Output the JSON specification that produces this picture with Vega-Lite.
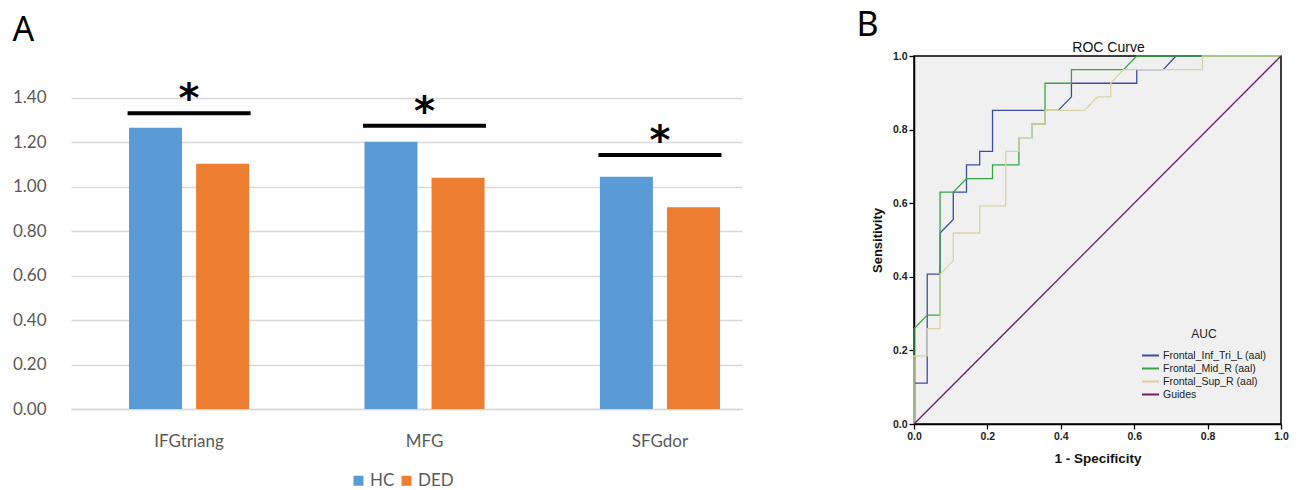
{
  "$schema": "https://vega.github.io/schema/vega-lite/v6.json",
  "padding": {"left": 12, "top": 8, "right": 5, "bottom": 2},
  "background": "white",
  "spacing": 113,
  "resolve": {"scale": {"color": "independent"}, "legend": {"color": "independent"}},
  "config": {"view": {"stroke": null}},
  "datasets": {
    "bars": [
      {"region": "IFGtriang", "group": "HC", "value": 1.266},
      {"region": "IFGtriang", "group": "DED", "value": 1.104},
      {"region": "MFG", "group": "HC", "value": 1.203},
      {"region": "MFG", "group": "DED", "value": 1.041},
      {"region": "SFGdor", "group": "HC", "value": 1.045},
      {"region": "SFGdor", "group": "DED", "value": 0.908}
    ],
    "sig": [
      {"region": "IFGtriang", "level": 1.331, "mark": "*"},
      {"region": "MFG", "level": 1.275, "mark": "*"},
      {"region": "SFGdor", "level": 1.143, "mark": "*"}
    ],
    "roc": [
      {"series": "Frontal_Inf_Tri_L (aal)", "i": 0, "fpr": 0, "tpr": 0},
      {"series": "Frontal_Inf_Tri_L (aal)", "i": 1, "fpr": 0, "tpr": 0.111},
      {"series": "Frontal_Inf_Tri_L (aal)", "i": 2, "fpr": 0.036, "tpr": 0.111},
      {"series": "Frontal_Inf_Tri_L (aal)", "i": 3, "fpr": 0.036, "tpr": 0.407},
      {"series": "Frontal_Inf_Tri_L (aal)", "i": 4, "fpr": 0.071, "tpr": 0.407},
      {"series": "Frontal_Inf_Tri_L (aal)", "i": 5, "fpr": 0.071, "tpr": 0.519},
      {"series": "Frontal_Inf_Tri_L (aal)", "i": 6, "fpr": 0.107, "tpr": 0.556},
      {"series": "Frontal_Inf_Tri_L (aal)", "i": 7, "fpr": 0.107, "tpr": 0.630},
      {"series": "Frontal_Inf_Tri_L (aal)", "i": 8, "fpr": 0.143, "tpr": 0.630},
      {"series": "Frontal_Inf_Tri_L (aal)", "i": 9, "fpr": 0.143, "tpr": 0.704},
      {"series": "Frontal_Inf_Tri_L (aal)", "i": 10, "fpr": 0.179, "tpr": 0.704},
      {"series": "Frontal_Inf_Tri_L (aal)", "i": 11, "fpr": 0.179, "tpr": 0.741},
      {"series": "Frontal_Inf_Tri_L (aal)", "i": 12, "fpr": 0.214, "tpr": 0.741},
      {"series": "Frontal_Inf_Tri_L (aal)", "i": 13, "fpr": 0.214, "tpr": 0.852},
      {"series": "Frontal_Inf_Tri_L (aal)", "i": 14, "fpr": 0.393, "tpr": 0.852},
      {"series": "Frontal_Inf_Tri_L (aal)", "i": 15, "fpr": 0.429, "tpr": 0.889},
      {"series": "Frontal_Inf_Tri_L (aal)", "i": 16, "fpr": 0.429, "tpr": 0.926},
      {"series": "Frontal_Inf_Tri_L (aal)", "i": 17, "fpr": 0.607, "tpr": 0.926},
      {"series": "Frontal_Inf_Tri_L (aal)", "i": 18, "fpr": 0.607, "tpr": 0.963},
      {"series": "Frontal_Inf_Tri_L (aal)", "i": 19, "fpr": 0.679, "tpr": 0.963},
      {"series": "Frontal_Inf_Tri_L (aal)", "i": 20, "fpr": 0.714, "tpr": 1},
      {"series": "Frontal_Inf_Tri_L (aal)", "i": 21, "fpr": 1, "tpr": 1},
      {"series": "Frontal_Mid_R (aal)", "i": 0, "fpr": 0, "tpr": 0},
      {"series": "Frontal_Mid_R (aal)", "i": 1, "fpr": 0, "tpr": 0.259},
      {"series": "Frontal_Mid_R (aal)", "i": 2, "fpr": 0.036, "tpr": 0.296},
      {"series": "Frontal_Mid_R (aal)", "i": 3, "fpr": 0.071, "tpr": 0.296},
      {"series": "Frontal_Mid_R (aal)", "i": 4, "fpr": 0.071, "tpr": 0.630},
      {"series": "Frontal_Mid_R (aal)", "i": 5, "fpr": 0.107, "tpr": 0.630},
      {"series": "Frontal_Mid_R (aal)", "i": 6, "fpr": 0.143, "tpr": 0.667},
      {"series": "Frontal_Mid_R (aal)", "i": 7, "fpr": 0.214, "tpr": 0.667},
      {"series": "Frontal_Mid_R (aal)", "i": 8, "fpr": 0.214, "tpr": 0.704},
      {"series": "Frontal_Mid_R (aal)", "i": 9, "fpr": 0.286, "tpr": 0.704},
      {"series": "Frontal_Mid_R (aal)", "i": 10, "fpr": 0.286, "tpr": 0.778},
      {"series": "Frontal_Mid_R (aal)", "i": 11, "fpr": 0.321, "tpr": 0.778},
      {"series": "Frontal_Mid_R (aal)", "i": 12, "fpr": 0.321, "tpr": 0.815},
      {"series": "Frontal_Mid_R (aal)", "i": 13, "fpr": 0.357, "tpr": 0.815},
      {"series": "Frontal_Mid_R (aal)", "i": 14, "fpr": 0.357, "tpr": 0.926},
      {"series": "Frontal_Mid_R (aal)", "i": 15, "fpr": 0.429, "tpr": 0.926},
      {"series": "Frontal_Mid_R (aal)", "i": 16, "fpr": 0.429, "tpr": 0.963},
      {"series": "Frontal_Mid_R (aal)", "i": 17, "fpr": 0.571, "tpr": 0.963},
      {"series": "Frontal_Mid_R (aal)", "i": 18, "fpr": 0.607, "tpr": 1},
      {"series": "Frontal_Mid_R (aal)", "i": 19, "fpr": 1, "tpr": 1},
      {"series": "Frontal_Sup_R (aal)", "i": 0, "fpr": 0, "tpr": 0},
      {"series": "Frontal_Sup_R (aal)", "i": 1, "fpr": 0, "tpr": 0.185},
      {"series": "Frontal_Sup_R (aal)", "i": 2, "fpr": 0.036, "tpr": 0.185},
      {"series": "Frontal_Sup_R (aal)", "i": 3, "fpr": 0.036, "tpr": 0.259},
      {"series": "Frontal_Sup_R (aal)", "i": 4, "fpr": 0.071, "tpr": 0.259},
      {"series": "Frontal_Sup_R (aal)", "i": 5, "fpr": 0.071, "tpr": 0.407},
      {"series": "Frontal_Sup_R (aal)", "i": 6, "fpr": 0.107, "tpr": 0.444},
      {"series": "Frontal_Sup_R (aal)", "i": 7, "fpr": 0.107, "tpr": 0.519},
      {"series": "Frontal_Sup_R (aal)", "i": 8, "fpr": 0.179, "tpr": 0.519},
      {"series": "Frontal_Sup_R (aal)", "i": 9, "fpr": 0.179, "tpr": 0.593},
      {"series": "Frontal_Sup_R (aal)", "i": 10, "fpr": 0.25, "tpr": 0.593},
      {"series": "Frontal_Sup_R (aal)", "i": 11, "fpr": 0.25, "tpr": 0.741},
      {"series": "Frontal_Sup_R (aal)", "i": 12, "fpr": 0.286, "tpr": 0.741},
      {"series": "Frontal_Sup_R (aal)", "i": 13, "fpr": 0.286, "tpr": 0.778},
      {"series": "Frontal_Sup_R (aal)", "i": 14, "fpr": 0.321, "tpr": 0.778},
      {"series": "Frontal_Sup_R (aal)", "i": 15, "fpr": 0.321, "tpr": 0.815},
      {"series": "Frontal_Sup_R (aal)", "i": 16, "fpr": 0.357, "tpr": 0.815},
      {"series": "Frontal_Sup_R (aal)", "i": 17, "fpr": 0.357, "tpr": 0.852},
      {"series": "Frontal_Sup_R (aal)", "i": 18, "fpr": 0.464, "tpr": 0.852},
      {"series": "Frontal_Sup_R (aal)", "i": 19, "fpr": 0.5, "tpr": 0.889},
      {"series": "Frontal_Sup_R (aal)", "i": 20, "fpr": 0.536, "tpr": 0.889},
      {"series": "Frontal_Sup_R (aal)", "i": 21, "fpr": 0.536, "tpr": 0.926},
      {"series": "Frontal_Sup_R (aal)", "i": 22, "fpr": 0.571, "tpr": 0.963},
      {"series": "Frontal_Sup_R (aal)", "i": 23, "fpr": 0.786, "tpr": 0.963},
      {"series": "Frontal_Sup_R (aal)", "i": 24, "fpr": 0.786, "tpr": 1},
      {"series": "Frontal_Sup_R (aal)", "i": 25, "fpr": 1, "tpr": 1},
      {"series": "Guides", "i": 0, "fpr": 0, "tpr": 0},
      {"series": "Guides", "i": 1, "fpr": 1, "tpr": 1}
    ]
  },
  "hconcat": [
    {
      "title": {"text": "A", "anchor": "start", "frame": "bounds", "fontSize": 34, "font": "Noto Sans", "fontWeight": "normal", "color": "black", "offset": 8},
      "width": 671,
      "height": 353,
      "view": {"stroke": null},
      "layer": [
        {
          "data": {"name": "bars"},
          "mark": {"type": "bar"},
          "encoding": {
            "x": {
              "field": "region", "type": "nominal", "sort": ["IFGtriang", "MFG", "SFGdor"],
              "scale": {"paddingInner": 0.49, "paddingOuter": 0.17, "align": 0.725},
              "axis": {"title": null, "labelAngle": 0, "ticks": false, "domainColor": "#d9d9d9", "domainWidth": 1.5, "labelFont": "Lato", "labelFontSize": 17, "labelColor": "#595959", "labelPadding": 24}
            },
            "xOffset": {"field": "group", "type": "nominal", "sort": ["HC", "DED"], "scale": {"paddingInner": 0.21, "paddingOuter": 0}},
            "y": {
              "field": "value", "type": "quantitative",
              "scale": {"domain": [0, 1.589], "nice": false},
              "axis": {"title": null, "values": [0, 0.2, 0.4, 0.6, 0.8, 1.0, 1.2, 1.4], "format": ".2f", "domain": false, "ticks": false, "gridColor": "#d9d9d9", "gridWidth": 1.5, "labelFont": "Lato", "labelFontSize": 17, "labelColor": "#595959", "labelPadding": 25}
            },
            "color": {
              "field": "group", "type": "nominal", "sort": ["HC", "DED"],
              "scale": {"domain": ["HC", "DED"], "range": ["#5b9bd5", "#ed7d31"]},
              "legend": {"orient": "none", "legendX": 279, "legendY": 416, "direction": "horizontal", "title": null, "symbolType": "square", "symbolSize": 100, "symbolStrokeWidth": 0, "labelFont": "Lato", "labelFontSize": 17, "labelColor": "#595959", "columnPadding": 3, "labelOffset": 3}
            }
          }
        },
        {
          "data": {"name": "sig"},
          "mark": {"type": "tick", "size": 123, "thickness": 4, "color": "black", "opacity": 1},
          "encoding": {
            "x": {"field": "region", "type": "nominal", "sort": ["IFGtriang", "MFG", "SFGdor"]},
            "y": {"field": "level", "type": "quantitative"}
          }
        },
        {
          "data": {"name": "sig"},
          "mark": {"type": "text", "font": "DejaVu Sans", "fontWeight": "bold", "fontSize": 40, "baseline": "alphabetic", "align": "center", "color": "black", "dy": -1},
          "encoding": {
            "x": {"field": "region", "type": "nominal", "sort": ["IFGtriang", "MFG", "SFGdor"]},
            "y": {"field": "level", "type": "quantitative"},
            "text": {"field": "mark"}
          }
        }
      ]
    },
    {
      "title": {"text": "B", "anchor": "start", "frame": "bounds", "fontSize": 34, "font": "Noto Sans", "fontWeight": "normal", "color": "black", "offset": -2, "dx": -15},
      "width": 367,
      "height": 368,
      "view": {"fill": "#f0f0f0", "stroke": "black", "strokeWidth": 1.5},
      "layer": [
        {
          "data": {"name": "roc"},
          "mark": {"type": "line", "strokeWidth": 1.3},
          "encoding": {
            "x": {
              "field": "fpr", "type": "quantitative", "scale": {"domain": [0, 1], "nice": false},
              "axis": {"title": "1 - Specificity", "values": [0, 0.2, 0.4, 0.6, 0.8, 1.0], "format": ".1f", "grid": false, "domainColor": "black", "domainWidth": 1.5, "tickColor": "black", "tickSize": 5, "tickWidth": 1.3, "labelFont": "Liberation Sans", "labelFontWeight": "bold", "labelFontSize": 10.5, "labelColor": "#222222", "labelFlush": false, "titleFont": "Liberation Sans", "titleFontWeight": "bold", "titleFontSize": 13.5, "titleColor": "#111111", "titlePadding": 10}
            },
            "y": {
              "field": "tpr", "type": "quantitative", "scale": {"domain": [0, 1], "nice": false},
              "axis": {"title": "Sensitivity", "values": [0, 0.2, 0.4, 0.6, 0.8, 1.0], "format": ".1f", "grid": false, "domainColor": "black", "domainWidth": 1.5, "tickColor": "black", "tickSize": 5, "tickWidth": 1.3, "labelFont": "Liberation Sans", "labelFontWeight": "bold", "labelFontSize": 10.5, "labelColor": "#222222", "labelFlush": false, "titleFont": "Liberation Sans", "titleFontWeight": "bold", "titleFontSize": 13, "titleColor": "#111111", "titlePadding": 8}
            },
            "color": {
              "field": "series", "type": "nominal",
              "scale": {"domain": ["Frontal_Inf_Tri_L (aal)", "Frontal_Mid_R (aal)", "Frontal_Sup_R (aal)", "Guides"], "range": ["#3b4ea3", "#36a545", "#d8d4a2", "#6e2066"]},
              "legend": {"orient": "none", "legendX": 227, "legendY": 273, "title": "AUC", "titleFont": "Liberation Sans", "titleFontSize": 12, "titleFontWeight": "normal", "titleColor": "#222222", "titleAnchor": "middle", "titlePadding": 8, "labelFont": "Liberation Sans", "labelFontSize": 10.5, "labelColor": "#222222", "symbolType": "stroke", "symbolSize": 289, "symbolStrokeWidth": 2, "clipHeight": 13, "rowPadding": 0, "labelOffset": 3}
            },
            "order": {"field": "i", "type": "quantitative"}
          }
        },
        {
          "data": {"values": [{"fpr": 0.53, "tpr": 1, "label": "ROC Curve"}]},
          "mark": {"type": "text", "baseline": "bottom", "dy": -1, "font": "Liberation Sans", "fontSize": 14, "color": "#111111"},
          "encoding": {
            "x": {"field": "fpr", "type": "quantitative"},
            "y": {"field": "tpr", "type": "quantitative"},
            "text": {"field": "label"}
          }
        }
      ]
    }
  ]
}
